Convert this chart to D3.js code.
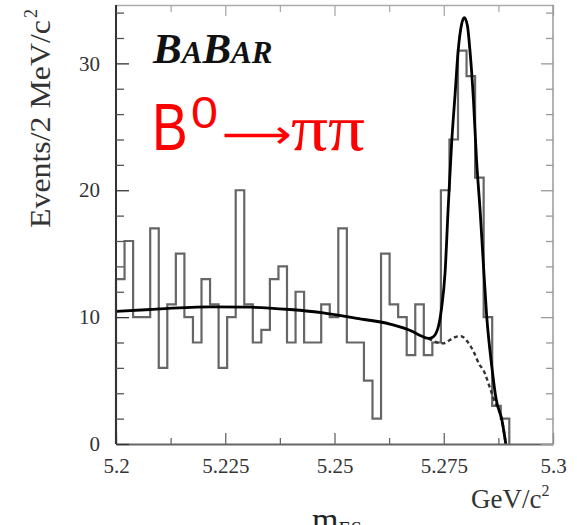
<!DOCTYPE html>
<html><head><meta charset="utf-8">
<script src="https://cdn.jsdelivr.net/npm/d3@7"></script>
<style>body{margin:0;background:#fff}svg{display:block}</style>
</head><body><svg id="c" width="577" height="525"></svg>
<script>
// ---- data ----
const histRange = [5.2, 5.29];
const counts = [13,16,10,10,17,6,11,15,10,8,13,11,6,10,20,11,8,9,13,14,8,12,8,8,11,10,17,8,8,5,2,15,11,10,7,11,7,8,20,24,31,29,21,10,3,2];
const fitMass  = [5.2000,5.2078,5.2215,5.2307,5.2398,5.2474,5.2551,5.2627,5.2680,5.2696,5.2715,5.2726,5.2738,5.2745,5.2753,5.2760,5.2768,5.2776,5.2783,5.2791,5.2797,5.2804,5.2810,5.2818,5.2825,5.2833,5.2841,5.2848,5.2860,5.2870,5.2883,5.2892];
const fitValue = [10.45,10.6,10.8,10.78,10.6,10.34,9.9,9.45,8.84,8.55,8.32,8.45,9.3,10.7,13.5,18.5,23.7,27.6,31.0,33.1,33.6,33.0,31.0,27.1,22.4,18.5,14.0,10.2,6.1,3.5,1.9,0];
const bkgMass  = [5.2715,5.2726,5.2738,5.2749,5.2764,5.2778,5.2789,5.2802,5.2818,5.2831,5.2841,5.2856,5.2867,5.2876,5.2883,5.2892];
const bkgValue = [8.32,8.12,7.97,7.93,8.2,8.45,8.5,8.17,7.3,6.3,5.8,4.4,3.3,2.7,1.9,0];
const xTicks = [5.2, 5.225, 5.25, 5.275, 5.3];
const xTickLabels = ["5.2","5.225","5.25","5.275","5.3"];
const xMinorTicks = [5.2125, 5.2375, 5.2625, 5.2875];
const yTicks = [0, 10, 20, 30];
const yTickLabels = ["0","10","20","30"];
const yMinorTicks = [2,4,6,8,12,14,16,18,22,24,26,28,32,34];

// ---- layout ----
const svg = d3.select("#c");
const L = 116, R = 553, T = 5, B = 444;
const x = d3.scaleLinear().domain([5.2, 5.3]).range([L, R]);
const y = d3.scaleLinear().domain([0, 34.6]).range([B, T]);
const serif = "'Liberation Serif','Times New Roman',serif";

// histogram outline
const n = counts.length;
const bw = (histRange[1] - histRange[0]) / n;
const pts = [[histRange[0], 0]];
counts.forEach((c, i) => {
  pts.push([histRange[0] + i * bw, c]);
  pts.push([histRange[0] + (i + 1) * bw, c]);
});
pts.push([histRange[1], 0]);
svg.append("path")
  .attr("d", d3.line().x(d => x(d[0])).y(d => y(d[1]))(pts))
  .attr("fill", "none").attr("stroke", "#666").attr("stroke-width", 2.2);

// background (dashed)
svg.append("path")
  .attr("d", d3.line().x(d => x(d[0])).y(d => y(d[1])).curve(d3.curveMonotoneX)(bkgMass.map((m, i) => [m, bkgValue[i]])))
  .attr("fill", "none").attr("stroke", "#333").attr("stroke-width", 2.4).attr("stroke-dasharray", "4,3");

// fit (solid)
svg.append("path")
  .attr("d", d3.line().x(d => x(d[0])).y(d => y(d[1])).curve(d3.curveMonotoneX)(fitMass.map((m, i) => [m, fitValue[i]])))
  .attr("fill", "none").attr("stroke", "#000").attr("stroke-width", 2.8);

// axes
function styleAxis(g, color, width) {
  g.select(".domain").attr("stroke", color).attr("stroke-width", width);
  g.selectAll(".tick line").attr("stroke", color).attr("stroke-width", 1.3);
}
// bottom
const gb = svg.append("g").attr("transform", `translate(0,${B})`)
  .call(d3.axisBottom(x).tickValues(xTicks).tickFormat((d, i) => xTickLabels[i]).tickSize(-11).tickSizeOuter(0).tickPadding(14));
styleAxis(gb, "#666", 2);
gb.selectAll("text").attr("font-family", serif).attr("font-size", 21).attr("fill", "#333");
const gbm = svg.append("g").attr("transform", `translate(0,${B})`)
  .call(d3.axisBottom(x).tickValues(xMinorTicks).tickFormat("").tickSize(-6).tickSizeOuter(0));
styleAxis(gbm, "#666", 0); gbm.select(".domain").remove();
// top
const gt = svg.append("g").attr("transform", `translate(0,${T})`)
  .call(d3.axisTop(x).tickValues(xTicks).tickFormat("").tickSize(-11).tickSizeOuter(0));
styleAxis(gt, "#aaa", 1.5);
const gtm = svg.append("g").attr("transform", `translate(0,${T})`)
  .call(d3.axisTop(x).tickValues(xMinorTicks).tickFormat("").tickSize(-7).tickSizeOuter(0));
styleAxis(gtm, "#aaa", 0); gtm.select(".domain").remove();
// right
const gr = svg.append("g").attr("transform", `translate(${R},0)`)
  .call(d3.axisRight(y).tickValues(yTicks).tickFormat("").tickSize(-12).tickSizeOuter(0));
styleAxis(gr, "#999", 1.5);
gr.select(".domain").attr("d", `M0,${T}V${B}`);
const grm = svg.append("g").attr("transform", `translate(${R},0)`)
  .call(d3.axisRight(y).tickValues(yMinorTicks).tickFormat("").tickSize(-7).tickSizeOuter(0));
styleAxis(grm, "#999", 0); grm.select(".domain").remove();
// left
const gl = svg.append("g").attr("transform", `translate(${L},0)`)
  .call(d3.axisLeft(y).tickValues(yTicks).tickFormat((d, i) => yTickLabels[i]).tickSize(-13).tickSizeOuter(0).tickPadding(16));
styleAxis(gl, "#333", 2);
gl.select(".domain").attr("d", `M0,${T}V${B}`);
gl.selectAll("text").attr("font-family", serif).attr("font-size", 21).attr("fill", "#333");
const glm = svg.append("g").attr("transform", `translate(${L},0)`)
  .call(d3.axisLeft(y).tickValues(yMinorTicks).tickFormat("").tickSize(-8).tickSizeOuter(0));
styleAxis(glm, "#555", 0); glm.select(".domain").remove();

// axis titles
const yt = svg.append("g").attr("transform", "translate(50,228) rotate(-90)");
yt.append("text").attr("x", 0).attr("y", 0)
  .attr("font-family", serif).attr("font-size", 30).attr("fill", "#333")
  .attr("textLength", 208).attr("lengthAdjust", "spacingAndGlyphs").text("Events/2 MeV/c");
yt.append("text").attr("x", 210).attr("y", -13)
  .attr("font-family", serif).attr("font-size", 18).attr("fill", "#333").text("2");

const xt = svg.append("text").attr("x", 471).attr("y", 508)
  .attr("font-family", serif).attr("font-size", 27).attr("fill", "#333");
xt.append("tspan").text("GeV/c");
xt.append("tspan").attr("font-size", 16).attr("dy", -12).text("2");

const mt = svg.append("text").attr("x", 312).attr("y", 531)
  .attr("font-family", serif).attr("font-size", 34).attr("fill", "#222");
mt.append("tspan").text("m");
mt.append("tspan").attr("font-size", 20).attr("dy", 5).text("ES");

// BABAR logo
const lg = svg.append("text").attr("x", 153).attr("y", 63)
  .attr("font-family", serif).attr("font-weight", "bold").attr("font-style", "italic").attr("fill", "#111");
lg.append("tspan").attr("font-size", 43).text("B");
lg.append("tspan").attr("font-size", 31).text("A");
lg.append("tspan").attr("font-size", 43).text("B");
lg.append("tspan").attr("font-size", 31).text("AR");

// red decay label
const red = "#f00";
const sans = "'Liberation Sans',Arial,sans-serif";
svg.append("g").attr("transform", "translate(152,150) scale(0.81,1)")
  .append("text").attr("font-family", sans).attr("font-size", 66).attr("fill", red).text("B");
svg.append("g").attr("transform", "translate(191,128) scale(1.1,1)")
  .append("text").attr("font-family", sans).attr("font-size", 44).attr("fill", red).text("0");
svg.append("text").attr("x", 222).attr("y", 148).attr("font-family", "'DejaVu Sans',sans-serif")
  .attr("font-size", 40).attr("fill", red).attr("textLength", 70).attr("lengthAdjust", "spacingAndGlyphs").text("⟶");
svg.append("text").attr("x", 291).attr("y", 150).attr("font-family", serif)
  .attr("font-size", 66).attr("fill", red).attr("textLength", 74).attr("lengthAdjust", "spacingAndGlyphs").text("ππ");
</script></body></html>
